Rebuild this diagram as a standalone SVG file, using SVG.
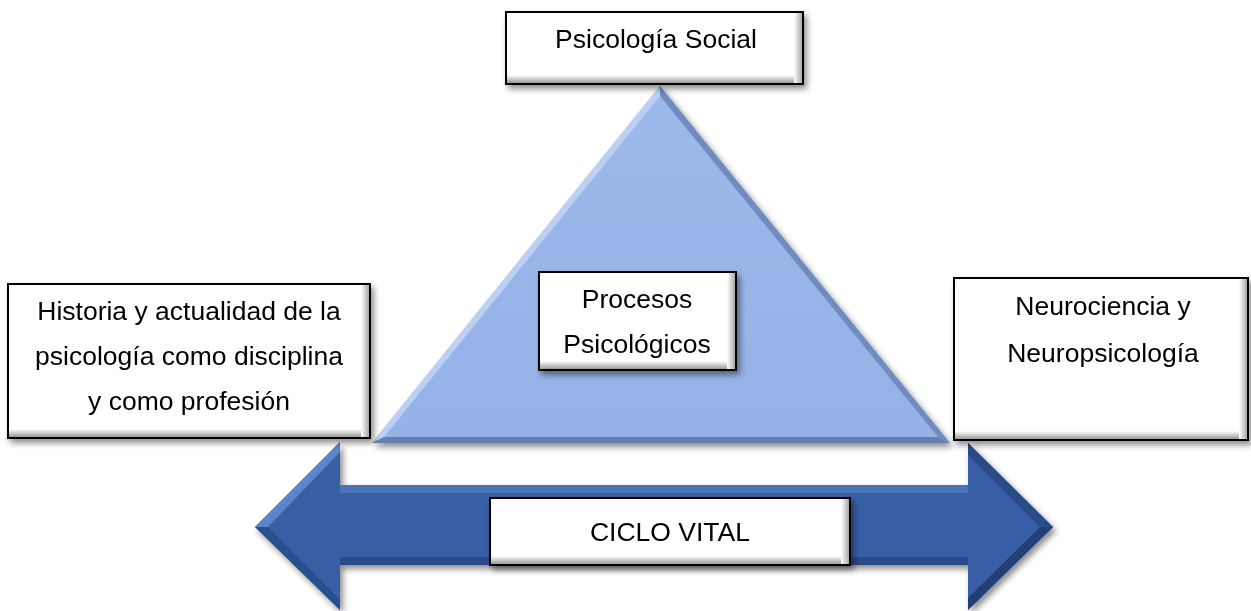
<svg xmlns="http://www.w3.org/2000/svg" width="1251" height="611" viewBox="0 0 1251 611">
<style>
.lbl{font-family:"Liberation Sans",Arial,sans-serif;font-size:26.5px;fill:#000;text-anchor:middle}
.box{fill:#fff;stroke:#000;stroke-width:2}
.bevB{fill:url(#gB)}
.bevR{fill:url(#gR)}
</style>
<defs>
<filter id="sh" x="-10%" y="-10%" width="125%" height="130%">
<feGaussianBlur in="SourceAlpha" stdDeviation="3"/>
<feOffset dx="3" dy="4" result="b"/>
<feComponentTransfer><feFuncA type="linear" slope="0.45"/></feComponentTransfer>
<feMerge><feMergeNode/><feMergeNode in="SourceGraphic"/></feMerge>
</filter>
<linearGradient id="gB" x1="0" y1="0" x2="0" y2="1">
<stop offset="0" stop-color="#fff"/><stop offset="1" stop-color="#9a9a9a"/>
</linearGradient>
<linearGradient id="gR" x1="0" y1="0" x2="1" y2="0">
<stop offset="0" stop-color="#fff"/><stop offset="1" stop-color="#a8a8a8"/>
</linearGradient>
<linearGradient id="triG" x1="0" y1="0" x2="0" y2="1">
<stop offset="0" stop-color="#9db8ea"/><stop offset="1" stop-color="#95b1e6"/>
</linearGradient>
</defs>

<g id="arrow" filter="url(#sh)">
<polygon points="255,527 340,442 340,485 968,485 968,443 1053,527 968,610 968,565 340,565 340,610" fill="#375fa5"/>
<polygon points="255,527 340,442 340,452 268,527" fill="#5d84c4"/>
<polygon points="340,485 968,485 968,493 340,493" fill="#4c74b8"/>
<polygon points="968,443 1053,527 1040,527 968,455" fill="#2a4c88"/>
<polygon points="255,527 268,527 340,600 340,610" fill="#2c4f8e"/>
<polygon points="968,610 1053,527 1040,527 968,598" fill="#233f74"/>
<polygon points="340,557 968,557 968,565 340,565" fill="#2a4c88"/>
</g>

<g id="triangle" filter="url(#sh)">
<polygon points="660,86 950,443 372,443" fill="url(#triG)"/>
<polygon points="660,86 372,443 384,437 660,96" fill="#bcd0f4"/>
<polygon points="660,86 950,443 938,437 660,96" fill="#6f8cbf"/>
<polygon points="384,437 938,437 950,443 372,443" fill="#6580b0"/>
</g>

<g id="psicologia-social" filter="url(#sh)">
<rect class="box" x="506" y="12" width="297" height="72"/>
<rect class="bevB" x="507" y="75" width="295" height="8"/>
<rect class="bevR" x="794" y="13" width="8" height="70"/>
<text class="lbl" x="656" y="48">Psicología Social</text>
</g>

<g id="historia" filter="url(#sh)">
<rect class="box" x="8" y="284" width="362" height="154"/>
<rect class="bevB" x="9" y="429" width="360" height="8"/>
<rect class="bevR" x="361" y="285" width="8" height="152"/>
<text class="lbl" x="189" y="320">Historia y actualidad de la</text>
<text class="lbl" x="189" y="365">psicología como disciplina</text>
<text class="lbl" x="189" y="410">y como profesión</text>
</g>

<g id="neurociencia" filter="url(#sh)">
<rect class="box" x="954" y="278" width="294" height="162"/>
<rect class="bevB" x="955" y="431" width="292" height="8"/>
<rect class="bevR" x="1239" y="279" width="8" height="160"/>
<text class="lbl" x="1103" y="315">Neurociencia y</text>
<text class="lbl" x="1103" y="362">Neuropsicología</text>
</g>

<g id="procesos" filter="url(#sh)">
<rect class="box" x="539" y="272" width="197" height="98"/>
<rect class="bevB" x="540" y="361" width="195" height="8"/>
<rect class="bevR" x="727" y="273" width="8" height="96"/>
<text class="lbl" x="637" y="308">Procesos</text>
<text class="lbl" x="637" y="353">Psicológicos</text>
</g>

<g id="ciclo-vital" filter="url(#sh)">
<rect class="box" x="490" y="498" width="360" height="67"/>
<rect class="bevB" x="491" y="556" width="358" height="8"/>
<rect class="bevR" x="841" y="499" width="8" height="65"/>
<text class="lbl" x="670" y="541">CICLO VITAL</text>
</g>
</svg>
